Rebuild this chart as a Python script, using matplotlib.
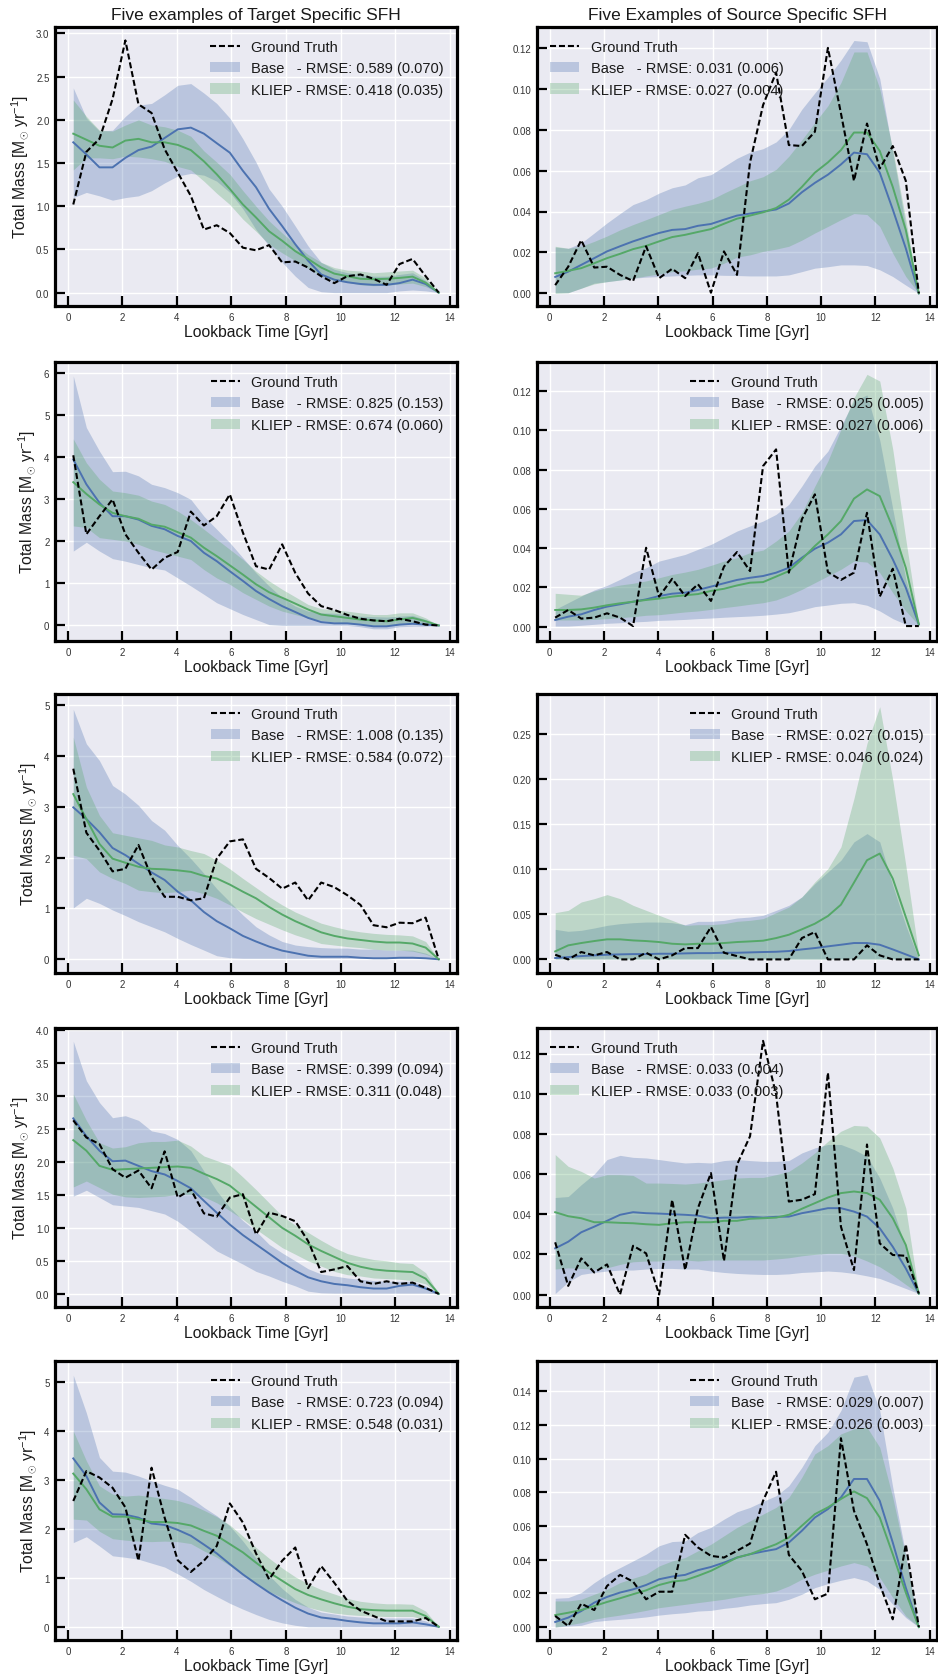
import matplotlib
matplotlib.use("Agg")
import matplotlib.pyplot as plt
from matplotlib.ticker import MultipleLocator

plt.rcParams['font.family'] = ['Liberation Sans', 'DejaVu Sans']
plt.rcParams['mathtext.fontset'] = 'custom'
plt.rcParams['mathtext.rm'] = 'Liberation Sans'
plt.rcParams['mathtext.it'] = 'Liberation Sans:italic'

# ---------------- data ----------------
lookback = [0.20, 0.68, 1.16, 1.64, 2.11, 2.59, 3.07, 3.55, 4.03, 4.51, 4.99, 5.46, 5.94, 6.42,
            6.90, 7.38, 7.86, 8.34, 8.81, 9.29, 9.77, 10.25, 10.73, 11.21, 11.69, 12.16, 12.64, 13.12, 13.60]

# Target panels (left column)
T1_gt = [1.02,1.63,1.78,2.24,2.92,2.18,2.08,1.66,1.39,1.12,0.73,0.78,0.69,0.52,0.49,0.55,0.35,0.36,0.29,0.19,0.11,0.19,0.21,0.16,0.09,0.33,0.39,0.19,0.0]
T1_base = [1.74,1.60,1.45,1.45,1.56,1.65,1.69,1.79,1.89,1.91,1.84,1.73,1.62,1.41,1.22,0.97,0.77,0.56,0.37,0.21,0.15,0.12,0.10,0.09,0.09,0.11,0.15,0.10,0.0]
T1_base_lo = [1.10,1.16,1.12,1.07,1.10,1.12,1.18,1.27,1.35,1.38,1.36,1.29,1.16,0.97,0.73,0.54,0.35,0.19,0.06,0.01,0.0,0.0,0.0,0.0,0.0,0.02,0.03,0.02,0.0]
T1_base_hi = [2.37,2.02,1.87,1.88,2.04,2.17,2.19,2.29,2.40,2.42,2.31,2.19,2.02,1.78,1.51,1.20,1.00,0.77,0.54,0.35,0.27,0.23,0.21,0.19,0.19,0.21,0.23,0.14,0.0]
T1_kl = [1.84,1.77,1.70,1.68,1.76,1.78,1.74,1.74,1.71,1.65,1.52,1.37,1.20,1.02,0.87,0.71,0.60,0.48,0.39,0.29,0.22,0.19,0.16,0.155,0.16,0.17,0.185,0.115,0.0]
T1_kl_lo = [1.42,1.56,1.56,1.55,1.58,1.57,1.55,1.52,1.46,1.42,1.29,1.15,1.02,0.85,0.71,0.56,0.46,0.37,0.28,0.19,0.14,0.12,0.09,0.08,0.085,0.10,0.11,0.07,0.0]
T1_kl_hi = [2.23,2.04,1.88,1.87,1.94,2.00,1.94,1.92,1.88,1.81,1.64,1.51,1.37,1.18,1.00,0.83,0.69,0.56,0.44,0.35,0.29,0.26,0.25,0.23,0.24,0.25,0.26,0.17,0.0]

T2_gt = [4.05,2.17,2.60,3.00,2.17,1.73,1.33,1.61,1.75,2.71,2.38,2.60,3.12,2.21,1.41,1.33,1.93,1.25,0.76,0.46,0.37,0.25,0.16,0.12,0.10,0.16,0.10,0.02,0.0]
T2_base = [3.95,3.36,2.92,2.60,2.60,2.52,2.37,2.29,2.13,2.01,1.73,1.53,1.29,1.06,0.82,0.63,0.46,0.32,0.18,0.08,0.05,0.05,0.02,-0.02,-0.02,0.02,0.04,0.02,0.0]
T2_base_lo = [1.77,1.98,1.77,1.59,1.53,1.45,1.37,1.32,1.13,0.94,0.74,0.54,0.40,0.26,0.14,0.02,0.0,0.0,0.0,0.0,0.0,0.0,-0.03,-0.08,-0.08,-0.03,-0.02,-0.02,0.0]
T2_base_hi = [5.94,4.71,4.15,3.66,3.67,3.56,3.36,3.28,3.16,3.00,2.60,2.29,1.97,1.61,1.25,0.94,0.66,0.46,0.34,0.30,0.29,0.26,0.22,0.21,0.20,0.22,0.24,0.14,0.0]
T2_kl = [3.41,3.13,2.88,2.68,2.60,2.54,2.40,2.35,2.22,2.09,1.85,1.65,1.43,1.21,0.98,0.79,0.66,0.52,0.38,0.26,0.22,0.18,0.14,0.12,0.10,0.14,0.18,0.10,0.0]
T2_kl_lo = [2.37,2.33,2.09,2.05,2.01,1.93,1.81,1.73,1.65,1.57,1.33,1.13,0.98,0.78,0.62,0.46,0.34,0.26,0.18,0.12,0.08,0.05,0.02,0.0,0.0,0.02,0.05,0.02,0.0]
T2_kl_hi = [4.44,3.87,3.48,3.20,3.16,3.10,2.96,2.88,2.72,2.52,2.29,2.05,1.81,1.57,1.29,1.06,0.86,0.68,0.50,0.40,0.37,0.34,0.30,0.26,0.26,0.30,0.30,0.18,0.0]

T3_gt = [3.75,2.49,2.14,1.73,1.78,2.25,1.62,1.23,1.23,1.16,1.20,1.98,2.32,2.36,1.78,1.60,1.39,1.51,1.16,1.51,1.42,1.26,1.07,0.67,0.63,0.72,0.71,0.82,0.0]
T3_base = [2.99,2.76,2.50,2.19,2.05,1.88,1.71,1.56,1.33,1.16,0.93,0.75,0.61,0.46,0.35,0.25,0.17,0.12,0.07,0.05,0.05,0.05,0.03,0.02,0.02,0.03,0.03,0.02,0.0]
T3_base_lo = [1.01,1.20,1.10,0.97,0.86,0.74,0.64,0.54,0.41,0.29,0.18,0.07,0.03,0.02,0.02,0.02,0.02,0.02,0.02,0.02,0.02,0.02,0.02,0.02,0.02,0.02,0.02,0.02,0.0]
T3_base_hi = [4.92,4.24,3.91,3.42,3.25,3.03,2.73,2.54,2.24,1.98,1.69,1.39,1.13,0.87,0.64,0.48,0.35,0.28,0.25,0.23,0.22,0.22,0.20,0.20,0.18,0.18,0.18,0.12,0.0]
T3_kl = [3.25,2.76,2.27,1.98,1.90,1.82,1.78,1.77,1.75,1.72,1.64,1.59,1.47,1.33,1.20,1.03,0.88,0.75,0.64,0.53,0.46,0.41,0.38,0.35,0.33,0.33,0.31,0.23,0.0]
T3_kl_lo = [2.05,1.98,1.72,1.59,1.49,1.36,1.33,1.31,1.33,1.36,1.29,1.20,1.07,0.93,0.80,0.69,0.58,0.48,0.40,0.31,0.28,0.25,0.23,0.20,0.18,0.18,0.16,0.10,0.0]
T3_kl_hi = [4.37,3.39,2.83,2.49,2.44,2.39,2.34,2.25,2.21,2.14,2.08,1.95,1.78,1.59,1.41,1.23,1.07,0.93,0.82,0.71,0.64,0.58,0.54,0.51,0.49,0.48,0.46,0.35,0.0]

T4_gt = [2.63,2.37,2.27,1.89,1.76,1.87,1.60,2.16,1.46,1.58,1.22,1.17,1.46,1.51,0.90,1.23,1.18,1.10,0.80,0.33,0.37,0.42,0.19,0.15,0.19,0.15,0.17,0.09,0.0]
T4_base = [2.66,2.39,2.17,2.01,2.02,1.94,1.86,1.81,1.71,1.60,1.41,1.23,1.05,0.89,0.75,0.61,0.47,0.35,0.25,0.19,0.15,0.13,0.10,0.08,0.08,0.12,0.14,0.08,0.0]
T4_base_lo = [1.48,1.57,1.46,1.35,1.33,1.31,1.26,1.21,1.10,0.95,0.80,0.65,0.55,0.45,0.34,0.27,0.19,0.12,0.04,0.015,0.01,0.01,0.01,0.01,0.01,0.01,0.01,0.01,0.0]
T4_base_hi = [3.83,3.23,2.90,2.67,2.70,2.63,2.47,2.43,2.34,2.17,1.86,1.56,1.31,1.11,0.95,0.75,0.62,0.50,0.38,0.30,0.27,0.24,0.22,0.20,0.19,0.19,0.19,0.12,0.0]
T4_kl = [2.33,2.17,1.94,1.88,1.89,1.90,1.91,1.92,1.93,1.91,1.82,1.74,1.64,1.48,1.32,1.16,1.00,0.88,0.75,0.65,0.56,0.47,0.41,0.37,0.35,0.34,0.33,0.23,0.0]
T4_kl_lo = [1.62,1.71,1.61,1.51,1.47,1.46,1.47,1.48,1.51,1.51,1.47,1.38,1.26,1.13,0.98,0.84,0.70,0.60,0.50,0.42,0.34,0.29,0.27,0.24,0.23,0.22,0.20,0.15,0.0]
T4_kl_hi = [3.03,2.63,2.29,2.21,2.23,2.29,2.31,2.31,2.33,2.24,2.09,2.02,1.95,1.77,1.58,1.38,1.18,1.04,0.93,0.81,0.70,0.61,0.56,0.52,0.50,0.47,0.46,0.32,0.0]

T5_gt = [2.57,3.18,3.05,2.84,2.44,1.35,3.25,2.23,1.36,1.12,1.35,1.65,2.52,2.13,1.50,0.97,1.35,1.62,0.79,1.24,0.90,0.53,0.33,0.22,0.11,0.11,0.11,0.18,0.0]
T5_base = [3.44,3.08,2.54,2.30,2.29,2.23,2.11,2.08,1.98,1.86,1.68,1.50,1.28,1.07,0.88,0.70,0.54,0.39,0.27,0.19,0.16,0.12,0.09,0.07,0.07,0.07,0.09,0.05,0.0]
T5_base_lo = [1.72,1.84,1.65,1.45,1.42,1.38,1.30,1.22,1.08,0.93,0.76,0.62,0.48,0.36,0.25,0.15,0.08,0.03,0.0,0.0,0.0,0.0,0.0,0.0,0.0,0.0,0.0,0.0,0.0]
T5_base_hi = [5.14,4.37,3.46,3.18,3.16,3.08,2.98,2.89,2.81,2.64,2.44,2.27,2.06,1.75,1.40,1.05,0.78,0.56,0.40,0.30,0.26,0.22,0.20,0.18,0.18,0.18,0.18,0.12,0.0]
T5_kl = [3.13,2.81,2.40,2.25,2.25,2.20,2.14,2.14,2.12,2.07,1.96,1.86,1.69,1.52,1.31,1.11,0.94,0.77,0.65,0.56,0.48,0.41,0.36,0.34,0.33,0.33,0.33,0.22,0.0]
T5_kl_lo = [2.20,2.18,1.95,1.80,1.77,1.75,1.74,1.75,1.74,1.70,1.55,1.42,1.25,1.05,0.88,0.72,0.60,0.49,0.40,0.33,0.28,0.25,0.23,0.22,0.21,0.21,0.21,0.15,0.0]
T5_kl_hi = [4.00,3.39,2.88,2.71,2.67,2.69,2.66,2.62,2.58,2.50,2.38,2.25,2.08,1.85,1.62,1.40,1.20,1.02,0.88,0.76,0.67,0.58,0.52,0.49,0.47,0.47,0.46,0.32,0.0]

# Source panels (right column)
S1_gt = [0.004,0.013,0.026,0.0126,0.013,0.009,0.006,0.023,0.0074,0.012,0.0074,0.0196,0.0003,0.0205,0.009,0.064,0.092,0.108,0.0725,0.072,0.079,0.120,0.088,0.055,0.083,0.061,0.072,0.055,0.0]
S1_base = [0.008,0.0106,0.0139,0.0172,0.0205,0.023,0.0254,0.0275,0.0295,0.031,0.0314,0.033,0.0339,0.036,0.038,0.039,0.040,0.041,0.0439,0.0494,0.054,0.058,0.063,0.0688,0.068,0.059,0.041,0.022,0.0]
S1_base_lo = [0.0003,0.0003,0.0025,0.005,0.0057,0.0065,0.0074,0.0079,0.0082,0.0085,0.0088,0.009,0.009,0.0088,0.0087,0.0085,0.0085,0.0085,0.009,0.0106,0.0123,0.013,0.0139,0.0139,0.0136,0.0115,0.0082,0.004,0.0]
S1_base_hi = [0.0226,0.022,0.0246,0.0295,0.0344,0.039,0.0434,0.0458,0.049,0.0516,0.053,0.0565,0.058,0.062,0.066,0.069,0.0707,0.074,0.080,0.090,0.098,0.1056,0.114,0.1236,0.123,0.105,0.069,0.0327,0.0]
S1_kl = [0.0098,0.011,0.0123,0.0147,0.0172,0.0193,0.0216,0.0232,0.0254,0.0275,0.0286,0.030,0.0314,0.034,0.0365,0.038,0.0396,0.0417,0.0458,0.052,0.059,0.064,0.070,0.0786,0.0786,0.0696,0.052,0.031,0.0]
S1_kl_lo = [0.0,0.0003,0.0025,0.0046,0.0057,0.0065,0.0074,0.0085,0.0095,0.0106,0.011,0.0118,0.0123,0.0147,0.0177,0.0188,0.0205,0.0216,0.023,0.026,0.0295,0.0327,0.036,0.039,0.0385,0.0327,0.0196,0.0082,0.0]
S1_kl_hi = [0.023,0.022,0.023,0.0254,0.028,0.031,0.0336,0.036,0.0385,0.041,0.0426,0.044,0.0458,0.049,0.052,0.055,0.057,0.0606,0.067,0.075,0.0835,0.0917,0.103,0.118,0.118,0.100,0.0704,0.036,0.0]

S2_gt = [0.0046,0.0085,0.0041,0.0046,0.0068,0.0046,0.0003,0.0402,0.0153,0.0244,0.0156,0.0216,0.0131,0.0306,0.038,0.0283,0.0818,0.0903,0.0275,0.0547,0.0674,0.0278,0.0238,0.0275,0.058,0.0153,0.0295,0.0003,0.0003]
S2_base = [0.0034,0.0051,0.0063,0.0085,0.0102,0.0114,0.0127,0.0139,0.0156,0.0168,0.0173,0.0187,0.0204,0.0221,0.0238,0.0249,0.0258,0.0275,0.030,0.0351,0.0397,0.0428,0.047,0.0538,0.0543,0.047,0.0343,0.0199,0.0012]
S2_base_lo = [0.0003,0.0003,0.0007,0.0012,0.0017,0.002,0.0024,0.0027,0.0032,0.0034,0.0037,0.0041,0.0044,0.0048,0.0051,0.0054,0.0058,0.0064,0.0071,0.0085,0.0102,0.011,0.0119,0.0122,0.0109,0.008,0.0041,0.0012,0.0007]
S2_base_hi = [0.0088,0.0122,0.0156,0.0187,0.021,0.0241,0.0275,0.030,0.0334,0.0351,0.0368,0.0394,0.0419,0.0453,0.0487,0.0513,0.0538,0.0572,0.0623,0.0716,0.0818,0.0894,0.1022,0.115,0.118,0.095,0.060,0.0241,0.0012]
S2_kl = [0.0085,0.0085,0.0088,0.0097,0.0109,0.0119,0.0127,0.0136,0.0143,0.0153,0.016,0.0166,0.0182,0.0193,0.021,0.0224,0.0227,0.0255,0.0283,0.0343,0.0411,0.047,0.0538,0.0652,0.0699,0.0665,0.0504,0.030,0.0012]
S2_kl_lo = [0.0034,0.0034,0.0034,0.0037,0.0041,0.0046,0.0051,0.0058,0.0061,0.0068,0.0075,0.008,0.0088,0.0097,0.0105,0.0114,0.0122,0.0136,0.016,0.019,0.0224,0.0258,0.0292,0.0334,0.0329,0.0275,0.0173,0.008,0.0007]
S2_kl_hi = [0.017,0.0165,0.016,0.0182,0.0199,0.0212,0.0221,0.0233,0.0249,0.0266,0.0278,0.0292,0.0312,0.0334,0.0351,0.0377,0.039,0.0436,0.0487,0.058,0.0716,0.0844,0.1005,0.1166,0.1285,0.1251,0.0903,0.0445,0.0012]

S3_gt = [0.0052,0.0,0.0082,0.0045,0.0082,0.0,0.0,0.0074,0.0,0.0045,0.0126,0.0126,0.036,0.0074,0.0037,0.0,0.0,0.0,0.0,0.0237,0.0304,0.0,0.0,0.0,0.0156,0.0045,0.0,0.0,0.0]
S3_base = [0.0015,0.0026,0.0037,0.0045,0.0052,0.0056,0.0059,0.0059,0.0063,0.0063,0.0067,0.007,0.007,0.0074,0.0074,0.0078,0.0082,0.0085,0.0093,0.0111,0.0126,0.0145,0.0163,0.0182,0.0182,0.0163,0.0111,0.0056,0.0]
S3_base_lo = [0.0005,0.0005,0.0005,0.0005,0.0005,0.0005,0.0005,0.0005,0.0005,0.0005,0.0005,0.0005,0.0005,0.0005,0.0005,0.0005,0.0005,0.0005,0.0005,0.0005,0.0005,0.0005,0.0005,0.0005,0.0005,0.0005,0.0005,0.0005,0.0]
S3_base_hi = [0.0334,0.0312,0.0323,0.0349,0.0378,0.0397,0.0408,0.0415,0.0415,0.0408,0.0386,0.0423,0.0423,0.0434,0.046,0.0471,0.049,0.0545,0.0601,0.0694,0.0842,0.0972,0.1102,0.1306,0.1398,0.1306,0.0823,0.0378,0.0]
S3_kl = [0.0089,0.0156,0.0182,0.0204,0.0223,0.0223,0.0211,0.0204,0.0193,0.0174,0.0167,0.0174,0.0174,0.0182,0.0193,0.020,0.0208,0.0237,0.0274,0.0334,0.0397,0.0482,0.0608,0.0853,0.1102,0.1176,0.0898,0.0471,0.0045]
S3_kl_lo = [0.0003,0.0003,0.0003,0.0003,0.0003,0.0003,0.0003,0.0003,0.0003,0.0003,0.0003,0.0003,0.0003,0.0003,0.0003,0.0003,0.0003,0.0003,0.0003,0.0003,0.0003,0.0003,0.0003,0.0003,0.0003,0.0003,0.0003,0.0003,0.0]
S3_kl_hi = [0.0519,0.0545,0.0638,0.0675,0.072,0.0675,0.0601,0.0545,0.049,0.0434,0.0378,0.0386,0.0386,0.0397,0.0423,0.0434,0.0453,0.0519,0.0582,0.0694,0.0861,0.1009,0.125,0.1788,0.24,0.2808,0.1992,0.1046,0.0045]

S4_gt = [0.026,0.0043,0.018,0.011,0.015,0.0,0.0243,0.0205,0.0,0.0472,0.0122,0.043,0.0605,0.0167,0.0647,0.0788,0.1263,0.0997,0.0463,0.0472,0.050,0.1105,0.0338,0.0122,0.0747,0.0255,0.0197,0.0193,0.0005]
S4_base = [0.023,0.0263,0.031,0.0338,0.0367,0.0397,0.041,0.0405,0.0403,0.040,0.0397,0.0393,0.038,0.0383,0.0383,0.0387,0.0383,0.0387,0.0388,0.0405,0.0417,0.043,0.043,0.0413,0.0388,0.033,0.0238,0.013,0.0005]
S4_base_lo = [0.0005,0.0063,0.010,0.011,0.0117,0.0122,0.0122,0.0127,0.013,0.013,0.0127,0.0127,0.0117,0.011,0.0105,0.0102,0.010,0.010,0.0103,0.011,0.0113,0.0117,0.0113,0.0105,0.0093,0.008,0.0055,0.003,0.0005]
S4_base_hi = [0.0483,0.0488,0.0547,0.060,0.0672,0.0693,0.0683,0.068,0.0672,0.0663,0.0655,0.0658,0.0655,0.0667,0.0672,0.0667,0.0663,0.0663,0.0667,0.0705,0.073,0.0747,0.0747,0.0722,0.0688,0.058,0.043,0.023,0.0005]
S4_kl = [0.041,0.039,0.038,0.036,0.036,0.0357,0.0355,0.035,0.0347,0.0355,0.036,0.036,0.036,0.0367,0.0367,0.0377,0.038,0.0383,0.0397,0.0427,0.0455,0.0483,0.0505,0.0513,0.0505,0.0472,0.038,0.0247,0.0005]
S4_kl_lo = [0.0127,0.0133,0.013,0.0127,0.0133,0.015,0.0163,0.0167,0.0167,0.0172,0.0172,0.0167,0.0172,0.0172,0.0172,0.0172,0.0172,0.0177,0.0183,0.0193,0.020,0.0205,0.0205,0.0193,0.0167,0.0138,0.0097,0.005,0.0005]
S4_kl_hi = [0.0697,0.0638,0.0613,0.058,0.0597,0.0597,0.0593,0.0555,0.0555,0.0553,0.055,0.0555,0.0563,0.0572,0.058,0.0583,0.0583,0.0597,0.0613,0.0655,0.0705,0.0763,0.0813,0.0842,0.0838,0.078,0.063,0.043,0.0005]

S5_gt = [0.0066,0.0006,0.0139,0.0101,0.0244,0.031,0.027,0.0165,0.021,0.021,0.0548,0.0473,0.0423,0.0413,0.0453,0.0496,0.075,0.0923,0.0429,0.0334,0.0165,0.0199,0.1122,0.0691,0.0492,0.0254,0.0046,0.0492,0.0]
S5_base = [0.003,0.0056,0.0095,0.0145,0.0179,0.0205,0.0224,0.025,0.0284,0.030,0.031,0.0338,0.0357,0.0383,0.0413,0.0433,0.0449,0.0463,0.0502,0.0572,0.0651,0.0701,0.077,0.088,0.088,0.075,0.0502,0.0234,0.0]
S5_base_lo = [0.0,0.0006,0.001,0.0032,0.004,0.0046,0.0052,0.006,0.0071,0.0079,0.0085,0.0095,0.0099,0.0111,0.0119,0.0131,0.0139,0.0145,0.0165,0.0195,0.0234,0.0258,0.0278,0.0294,0.0274,0.0224,0.0135,0.0056,0.0]
S5_base_hi = [0.0171,0.0175,0.0205,0.0264,0.0314,0.0353,0.0393,0.0433,0.0483,0.0508,0.0512,0.0562,0.0592,0.0641,0.0685,0.0711,0.0747,0.078,0.084,0.0949,0.1078,0.1158,0.1287,0.1485,0.150,0.1287,0.083,0.0433,0.0]
S5_kl = [0.0071,0.0085,0.0101,0.0125,0.0149,0.0171,0.0195,0.0218,0.025,0.027,0.0278,0.0304,0.0334,0.0373,0.0413,0.0433,0.0463,0.0492,0.0532,0.0602,0.0671,0.0711,0.0761,0.0806,0.0766,0.0651,0.0433,0.0205,0.0]
S5_kl_lo = [0.0,0.0012,0.0026,0.0046,0.006,0.0071,0.0085,0.0099,0.0115,0.0125,0.0135,0.0145,0.0155,0.0165,0.0179,0.0191,0.0199,0.0214,0.0244,0.0284,0.0314,0.0338,0.0363,0.0383,0.0363,0.0294,0.0175,0.0066,0.0]
S5_kl_hi = [0.0155,0.0155,0.0165,0.0195,0.0224,0.0264,0.029,0.0314,0.0363,0.0393,0.0413,0.0453,0.0492,0.0542,0.0592,0.0631,0.0671,0.0711,0.077,0.089,0.1029,0.1078,0.1148,0.1178,0.1187,0.1068,0.077,0.0413,0.0]

base_rmse = ["0.589 (0.070)", "0.031 (0.006)", "0.825 (0.153)", "0.025 (0.005)", "1.008 (0.135)",
             "0.027 (0.015)", "0.399 (0.094)", "0.033 (0.004)", "0.723 (0.094)", "0.029 (0.007)"]
kliep_rmse = ["0.418 (0.035)", "0.027 (0.004)", "0.674 (0.060)", "0.027 (0.006)", "0.584 (0.072)",
              "0.046 (0.024)", "0.311 (0.048)", "0.033 (0.003)", "0.548 (0.031)", "0.026 (0.003)"]
titles = ["Five examples of Target Specific SFH", "Five Examples of Source Specific SFH"]
xticks = [0, 2, 4, 6, 8, 10, 12, 14]

panels = [
    (T1_gt, T1_base, T1_base_lo, T1_base_hi, T1_kl, T1_kl_lo, T1_kl_hi),
    (S1_gt, S1_base, S1_base_lo, S1_base_hi, S1_kl, S1_kl_lo, S1_kl_hi),
    (T2_gt, T2_base, T2_base_lo, T2_base_hi, T2_kl, T2_kl_lo, T2_kl_hi),
    (S2_gt, S2_base, S2_base_lo, S2_base_hi, S2_kl, S2_kl_lo, S2_kl_hi),
    (T3_gt, T3_base, T3_base_lo, T3_base_hi, T3_kl, T3_kl_lo, T3_kl_hi),
    (S3_gt, S3_base, S3_base_lo, S3_base_hi, S3_kl, S3_kl_lo, S3_kl_hi),
    (T4_gt, T4_base, T4_base_lo, T4_base_hi, T4_kl, T4_kl_lo, T4_kl_hi),
    (S4_gt, S4_base, S4_base_lo, S4_base_hi, S4_kl, S4_kl_lo, S4_kl_hi),
    (T5_gt, T5_base, T5_base_lo, T5_base_hi, T5_kl, T5_kl_lo, T5_kl_hi),
    (S5_gt, S5_base, S5_base_lo, S5_base_hi, S5_kl, S5_kl_lo, S5_kl_hi),
]

# ---------------- layout / style ----------------
ylims = [(-0.155, 3.075), (-0.0062, 0.1302), (-0.37, 6.27), (-0.0073, 0.1348), (-0.27, 5.22),
         (-0.0151, 0.2949), (-0.20, 4.03), (-0.0062, 0.1327), (-0.27, 5.43), (-0.0077, 0.1581)]
ysteps = [0.5, 0.02, 1, 0.02, 1, 0.05, 0.5, 0.02, 1, 0.02]
legend_locs = ['upper right', 'upper left', 'upper right', 'upper right', 'upper right',
               'upper right', 'upper right', 'upper left', 'upper right', 'upper right']

W, H = 938, 1681
fig = plt.figure(figsize=(W / 100, H / 100), dpi=100, facecolor='white')
row_bottom_px = [307, 642, 974, 1308, 1641]
ax_h_px = 279
col_left_px = [55, 537]
col_w_px = [402, 400]

BLUE = '#4C72B0'
GREEN = '#55A868'

for k, data in enumerate(panels):
    r, c = divmod(k, 2)
    gt, b, blo, bhi, kl, klo, khi = data
    ax = fig.add_axes([col_left_px[c] / W, 1 - row_bottom_px[r] / H, col_w_px[c] / W, ax_h_px / H])
    ax.set_facecolor('#EAEAF2')
    ax.grid(True, color='white', lw=1.0, zorder=0)
    ax.set_axisbelow(True)

    ax.plot(lookback, gt, color='black', ls='--', dashes=(2.9, 1.4), lw=1.5, zorder=5, label='Ground Truth')
    ax.fill_between(lookback, blo, bhi, color=BLUE, alpha=0.3, lw=0, zorder=2,
                    label='Base   - RMSE: ' + base_rmse[k])
    ax.fill_between(lookback, klo, khi, color=GREEN, alpha=0.3, lw=0, zorder=2,
                    label='KLIEP - RMSE: ' + kliep_rmse[k])
    ax.plot(lookback, b, color=BLUE, lw=1.4, zorder=3)
    ax.plot(lookback, kl, color=GREEN, lw=1.4, zorder=3)

    ax.set_xlim(-0.47, 14.27)
    ax.set_ylim(*ylims[k])
    ax.set_xticks(xticks)
    ax.yaxis.set_major_locator(MultipleLocator(ysteps[k]))
    ax.tick_params(axis='both', direction='in', length=7, width=1.6, color='black',
                   labelsize=7, labelcolor='#333333', pad=4)
    for sp in ax.spines.values():
        sp.set_color('black')
        sp.set_linewidth(2.3)

    ax.set_xlabel('Lookback Time [Gyr]', fontsize=11.3, color='#1a1a1a', labelpad=2)
    if c == 0:
        ax.set_ylabel(r'Total Mass [M$_{\odot}$ yr$^{-1}$]', fontsize=11.3, color='#1a1a1a', labelpad=4)
    if r == 0:
        ax.set_title(titles[c], fontsize=12.5, color='#1a1a1a', pad=6)

    leg = ax.legend(loc=legend_locs[k], frameon=False, fontsize=10.5)
    for t in leg.get_texts():
        t.set_color('#1a1a1a')

fig.savefig('out.png', dpi=100, facecolor='white')
